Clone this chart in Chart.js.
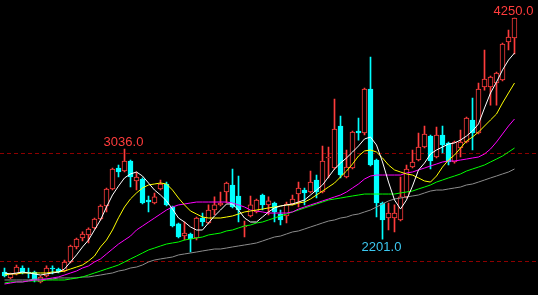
<!DOCTYPE html>
<html>
<head>
<meta charset="utf-8">
<script src="https://cdn.jsdelivr.net/npm/chart.js@4.4.0/dist/chart.umd.min.js"></script>
<style>
  html, body { margin: 0; padding: 0; background: #000; overflow: hidden; }
  canvas { display: block; }
</style>
</head>
<body>
<canvas id="kline" width="538" height="295"></canvas>
<script>
// daily candles, oldest first
const opens = [
  1898,1843,1880,1935,1898,1898,1806,1861,1935,1926,
  1907,1991,2130,2213,2241,2306,2389,2509,2667,2861,
  2833,2926,2741,2759,2565,2537,2667,2713,2500,2343,
  2232,2250,2213,2398,2352,2472,2519,2639,2704,2602,
  2315,2417,2454,2611,2519,2537,2435,2417,2528,2620,
  2657,2639,2750,2639,2954,2861,3250,2778,2861,3204,
  3185,3593,2935,2537,2398,2398,2380,2593,2870,2935,
  3056,3157,2963,3167,3093,2917,3046,3102,3306,3185,
  3611,3611,3648,3676,4028,4065
];
const highs = [
  1935,1889,1963,1954,1935,1907,1861,1954,1954,1935,
  2009,2148,2213,2269,2306,2398,2519,2676,2861,2889,
  3036,2935,2824,2769,2602,2630,2750,2731,2509,2352,
  2361,2259,2407,2444,2519,2593,2639,2731,2852,2787,
  2370,2602,2574,2620,2593,2546,2472,2546,2611,2731,
  2676,2833,2796,3065,3056,3500,3343,3028,3204,3324,
  3602,3889,2944,2546,2537,2519,2778,2889,3028,3185,
  3250,3167,3241,3250,3102,3111,3213,3333,3509,3648,
  3954,3713,3750,4019,4139,4250
];
const lows = [
  1852,1833,1870,1880,1843,1806,1796,1852,1880,1889,
  1898,1981,2111,2185,2167,2296,2380,2454,2657,2778,
  2824,2685,2657,2528,2454,2528,2657,2509,2315,2213,
  2194,2083,2194,2324,2343,2426,2509,2537,2491,2361,
  2222,2407,2444,2472,2426,2361,2333,2352,2519,2500,
  2519,2630,2583,2630,2769,2852,2769,2769,2852,3120,
  3167,2880,2407,2201,2287,2269,2370,2583,2861,2926,
  3046,2852,2954,3000,2889,2907,2963,3093,3028,3176,
  3583,3444,3444,3667,3954,3917
];
const closes = [
  1861,1880,1944,1889,1889,1824,1852,1935,1926,1898,
  1991,2139,2204,2250,2296,2389,2509,2667,2852,2824,
  2926,2778,2778,2537,2546,2593,2713,2519,2324,2222,
  2259,2204,2398,2361,2472,2519,2537,2722,2500,2472,
  2324,2519,2565,2519,2556,2454,2380,2528,2574,2676,
  2630,2731,2639,2926,2963,3222,2796,2870,3194,3185,
  3593,2889,2537,2380,2444,2444,2593,2852,2917,3056,
  3176,2926,3167,3074,2917,3102,3102,3324,3185,3593,
  3685,3704,3741,4009,4074,4250
];

// moving average lines
const ma5 = [
  1889,1880,1889,1898,1889,1880,1870,1880,1889,1898,
  1926,1991,2056,2130,2194,2287,2380,2500,2611,2694,
  2769,2806,2824,2787,2722,2657,2611,2556,2481,2398,
  2361,2315,2287,2287,2352,2417,2472,2528,2528,2472,
  2398,2361,2361,2407,2454,2491,2509,2519,2528,2546,
  2565,2611,2657,2704,2778,2852,2907,2954,3009,3065,
  3130,3148,3074,2917,2731,2565,2481,2565,2694,2843,
  2907,2991,3028,3056,3083,3093,3120,3157,3204,3269,
  3417,3556,3657,3769,3861,3926
];
const ma10 = [
  1870,1880,1880,1889,1889,1889,1889,1889,1898,1898,
  1907,1926,1944,1963,2000,2046,2130,2194,2287,2400,
  2500,2575,2630,2676,2704,2713,2722,2713,2657,2583,
  2519,2463,2435,2407,2398,2398,2398,2407,2417,2435,
  2454,2463,2472,2481,2491,2500,2509,2519,2519,2537,
  2546,2574,2611,2648,2685,2722,2778,2833,2898,2972,
  3019,3028,3009,2954,2889,2843,2824,2806,2796,2769,
  2741,2731,2787,2870,2935,2981,3046,3111,3148,3194,
  3250,3306,3361,3463,3556,3648
];
const ma20 = [
  1787,1796,1806,1806,1815,1824,1824,1833,1843,1852,
  1870,1889,1907,1935,1954,1991,2019,2065,2111,2157,
  2194,2231,2287,2324,2361,2398,2435,2472,2500,2519,
  2528,2537,2546,2546,2546,2546,2546,2546,2537,2519,
  2500,2472,2463,2454,2444,2444,2444,2444,2454,2481,
  2500,2519,2537,2556,2574,2593,2611,2639,2676,2713,
  2759,2787,2796,2796,2796,2796,2796,2815,2824,2843,
  2861,2880,2898,2917,2926,2926,2935,2944,2954,2963,
  2991,3037,3102,3176,3250,3315
];
const ma30 = [
  1796,1806,1806,1806,1815,1815,1815,1824,1824,1824,
  1824,1833,1843,1852,1870,1889,1907,1926,1944,1963,
  1991,2019,2046,2074,2102,2120,2139,2157,2167,2176,
  2194,2204,2213,2222,2241,2250,2259,2278,2287,2306,
  2324,2333,2352,2361,2380,2398,2417,2435,2454,2472,
  2491,2509,2528,2546,2565,2574,2583,2593,2602,2611,
  2620,2620,2620,2620,2620,2620,2630,2639,2648,2667,
  2685,2704,2731,2750,2769,2787,2806,2833,2852,2870,
  2889,2917,2944,2972,3009,3046
];
const ma60 = [
  1824,1824,1824,1824,1824,1833,1833,1833,1833,1843,
  1843,1843,1843,1852,1852,1861,1870,1880,1889,1907,
  1917,1935,1944,1963,1991,2009,2019,2028,2037,2056,
  2065,2074,2083,2093,2102,2111,2111,2120,2130,2139,
  2148,2157,2167,2185,2204,2222,2231,2250,2269,2278,
  2296,2315,2333,2352,2370,2380,2398,2407,2426,2435,
  2454,2472,2500,2528,2556,2574,2583,2593,2602,2611,
  2630,2648,2657,2657,2667,2676,2685,2704,2713,2731,
  2750,2769,2787,2806,2824,2852
];

const gridValues = [2000, 3000];
const days = opens.map((_, i) => String(i + 1));

const UP = '#ff3c3c';
const DOWN = '#00ffff';
const isUp = closes.map((c, i) => c >= opens[i]);

const wicks = lows.map((l, i) => [l, highs[i]]);
const bodies = opens.map((o, i) => [Math.min(o, closes[i]), Math.max(o, closes[i])]);

// price tags on the marked highs / low: [index, above?, colour]
const tagMarks = [
  [85, true, UP],
  [20, true, UP],
  [63, false, '#3cc8f0']
];

const background = {
  id: 'background',
  beforeDraw(chart) {
    const ctx = chart.ctx;
    ctx.save();
    ctx.fillStyle = '#000';
    ctx.fillRect(0, 0, chart.width, chart.height);
    ctx.restore();
  }
};

const dashedGrid = {
  id: 'dashedGrid',
  beforeDatasetsDraw(chart) {
    const ctx = chart.ctx;
    const y = chart.scales.y;
    ctx.save();
    ctx.strokeStyle = '#8c0000';
    ctx.lineWidth = 1;
    ctx.setLineDash([4, 3]);
    gridValues.forEach(v => {
      const py = Math.round(y.getPixelForValue(v)) + 0.5;
      ctx.beginPath();
      ctx.moveTo(0, py);
      ctx.lineTo(chart.width, py);
      ctx.stroke();
    });
    ctx.restore();
  }
};

const priceTags = {
  id: 'priceTags',
  afterDatasetsDraw(chart) {
    const ctx = chart.ctx;
    const x = chart.scales.x;
    const y = chart.scales.y;
    ctx.save();
    ctx.font = '13px "Liberation Sans", Arial, sans-serif';
    ctx.textAlign = 'center';
    ctx.textBaseline = 'alphabetic';
    tagMarks.forEach(([i, above, color]) => {
      const v = above ? highs[i] : lows[i];
      const px = x.getPixelForValue(i) - 1;
      const py = y.getPixelForValue(v);
      ctx.fillStyle = color;
      ctx.fillText(v.toFixed(1), px, above ? py - 3 : py + 12);
    });
    ctx.restore();
  }
};

function maLine(data, color) {
  return {
    type: 'line',
    data: data,
    borderColor: color,
    borderWidth: 1,
    pointRadius: 0,
    tension: 0,
    fill: false,
    order: 0
  };
}

new Chart(document.getElementById('kline'), {
  type: 'bar',
  data: {
    labels: days,
    datasets: [
      maLine(ma5, '#ffffff'),
      maLine(ma10, '#ffff00'),
      maLine(ma20, '#ff00ff'),
      maLine(ma30, '#00ff00'),
      maLine(ma60, '#8c8c8c'),
      {
        data: bodies,
        backgroundColor: isUp.map(u => u ? '#000' : DOWN),
        borderColor: isUp.map(u => u ? UP : DOWN),
        borderWidth: 1,
        borderSkipped: false,
        barThickness: 5,
        minBarLength: 1,
        grouped: false,
        order: 1
      },
      {
        data: wicks,
        backgroundColor: isUp.map(u => u ? UP : DOWN),
        borderWidth: 0,
        barThickness: 1,
        grouped: false,
        order: 2
      }
    ]
  },
  options: {
    responsive: false,
    animation: false,
    devicePixelRatio: 1,
    layout: { padding: { left: 1.5, right: 20.5, top: 0, bottom: 0 } },
    plugins: {
      legend: { display: false },
      tooltip: { enabled: false }
    },
    scales: {
      x: { display: false, offset: true },
      y: { display: false, min: 1685, max: 4417 }
    }
  },
  plugins: [background, dashedGrid, priceTags]
});
</script>
</body>
</html>
